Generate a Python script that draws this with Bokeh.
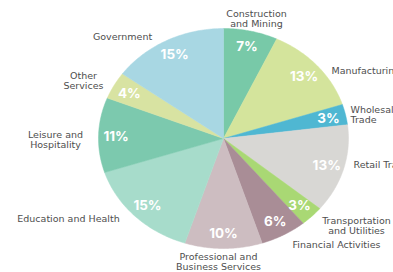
import numpy as np
from bokeh.plotting import figure
from bokeh.models import Range1d, ColumnDataSource
from bokeh.core.properties import value
from bokeh.embed import file_html
from bokeh.resources import INLINE

categories = ["Construction\nand Mining", "Manufacturing", "Wholesale\nTrade", "Retail Trade",
              "Transportation\nand Utilities", "Financial Activities",
              "Professional and\nBusiness Services", "Education and Health",
              "Leisure and\nHospitality", "Other\nServices", "Government"]
shares = [7, 13, 3, 13, 3, 6, 10, 15, 11, 4, 15]
colors = ["#78c9a8", "#d4e49c", "#4fb7d2", "#d8d7d4", "#a9d874", "#a98d96",
          "#cdbdc1", "#a7dccb", "#7cc9ae", "#d8e3a2", "#a8d7e3"]

# label anchor positions (x, y of first line) in page pixels (layout only)
label_px = [(256, 13), (331, 70), (350, 109), (353, 164), (356, 220), (336, 244),
            (218, 256), (68, 218), (55, 134), (83, 75), (122, 36)]
label_align = ["center", "left", "left", "left", "center", "center",
               "center", "center", "center", "center", "center"]
LINE = 10

CX, CY, RX, RY = 223, 138, 125, 110
W, H = 393, 272

p = figure(width=W, height=H, output_backend="svg", toolbar_location=None,
           x_range=Range1d((0 - CX) / RX, (W - CX) / RX),
           y_range=Range1d((CY - H) / RY, CY / RY),
           min_border=0, outline_line_color=None)
p.axis.visible = False
p.grid.visible = False
p.background_fill_color = "white"

total = float(sum(shares))
cum = np.concatenate([[0], np.cumsum(shares)]) / total * 2 * np.pi
xs, ys, mx, my = [], [], [], []
for i in range(len(shares)):
    t = np.linspace(cum[i], cum[i + 1], 60)
    xs.append([0.0] + list(np.sin(t)))
    ys.append([0.0] + list(np.cos(t)))
    m = (cum[i] + cum[i + 1]) / 2
    mx.append(0.86 * np.sin(m))
    my.append(0.86 * np.cos(m))

p.patches(xs=xs, ys=ys, fill_color=colors, line_color=colors, line_width=0.5)

pct = [f"{s}%" for s in shares]
p.text(x=mx, y=my, text=pct, text_color="white", text_font=value("Inter"),
       text_font_style="bold", text_font_size="13.5px", text_align="center",
       text_baseline="middle")

for align in ["center", "left"]:
    lx, ly, lt = [], [], []
    for i in range(len(categories)):
        if label_align[i] != align:
            continue
        for k, line in enumerate(categories[i].split("\n")):
            lx.append((label_px[i][0] - CX) / RX)
            ly.append((CY - label_px[i][1] - k * LINE) / RY)
            lt.append(line)
    src = ColumnDataSource(dict(x=lx, y=ly, t=lt))
    p.text(x="x", y="y", text="t", source=src, text_color="#4e4e4e",
           text_font=value("DejaVu Sans"), text_font_size="9.5px", text_align=align,
           text_baseline="middle")

open("out.html", "w").write(file_html(p, INLINE))
